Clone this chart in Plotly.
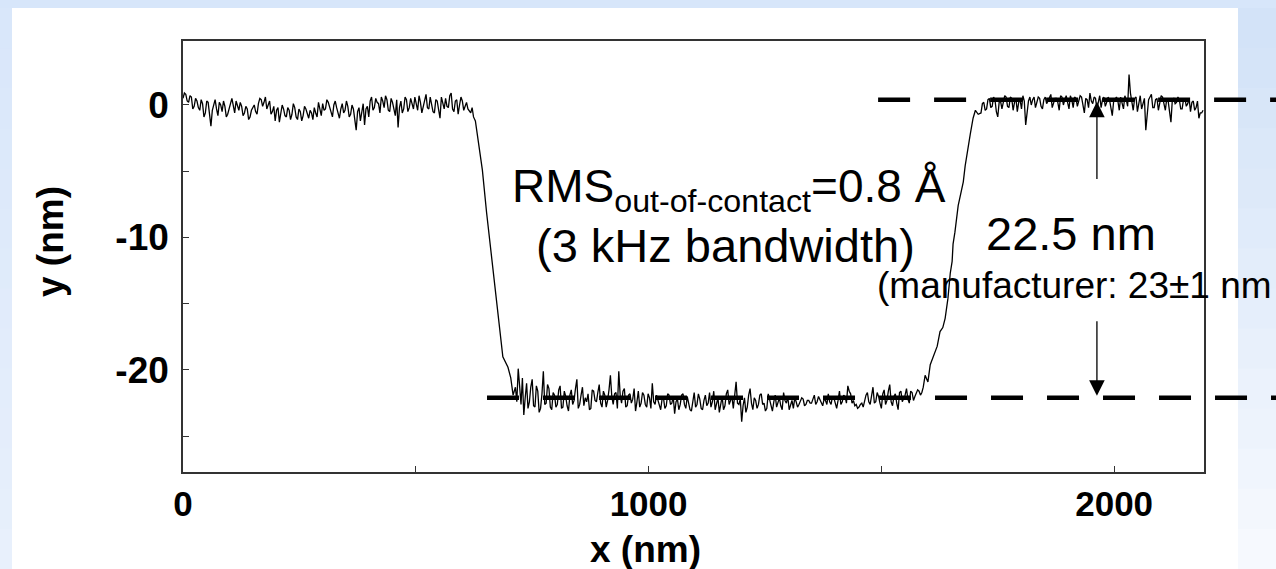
import plotly.graph_objects as go

# ---------------- figure geometry ----------------
W, H = 1276, 569
M_L, M_R, M_T, M_B = 183, 72, 41, 97
X_RANGE = [0, 2193]
Y_RANGE = [-27.7, 4.83]

# ---------------- data ----------------
SAMPLE_STEP_NM = 6

# flat top, left side: samples at x = 0, 6, ... 624 nm
left_start_nm = 0
left_y = [0.5, 0.8, 0.2, 0.6, -0.1, 0.3, -0.4, 0.1, -0.6, 0.2,
          -1.6, 0.0, -0.3, 0.2, -0.5, -0.1, -0.7, 0.1, -0.2, 0.3,
          -0.4, -0.1, -0.6, -0.3, -0.9, -0.2, -0.5, 0.1, 0.4, 0.2,
          -0.3, 0.3, -0.5, -1.2, -0.2, -0.6, -0.3, -0.9, -0.4, -0.7,
          -0.2, -1.1, -0.5, -0.8, -0.3, -1.0, -0.6, -0.2, -0.9, -0.4,
          0.1, -0.3, 0.2, -0.6, 0.0, -0.2, -1.0, 0.1, -0.4, -0.1,
          -0.7, -0.3, -1.9, -0.2, -0.6, -1.5, -0.1, 0.3, -0.4, 0.5,
          0.1, 0.6, -0.2, 0.4, -0.5, 0.2, -0.8, -1.7, 0.3, -0.3,
          0.4, -0.2, 0.1, 0.6, -0.4, 0.2, -0.1, 0.8, -0.3, 0.1,
          -0.6, 0.3, -1.0, 0.2, 0.5, -0.2, 0.9, -0.5, 0.4, 0.0,
          0.3, -0.1, -0.3, -0.6, -0.9]
# in-between samples at x = 3, 9, ... 621 nm
left_mid_start_nm = 3
left_mid_y = [0.9, 0.3, 0.7, -0.3, 0.5, -0.2, 0.4, -0.9, 0.3, -0.8,
              -0.4, 0.4, -0.8, 0.0, 0.3, -0.9, -0.2, 0.5, -0.6, -0.1,
              0.2, -0.8, -0.1, -1.1, -0.4, 0.0, -0.7, 0.5, -0.1, 0.6,
              0.1, -0.7, -0.1, -0.4, -1.3, 0.0, -0.8, -0.2, -1.1, 0.1,
              -0.9, -0.3, -1.2, -0.1, -0.7, -0.4, -1.1, -0.6, 0.2, -0.8,
              -0.4, 0.4, -0.2, -0.9, 0.3, -0.7, -0.3, -0.6, 0.3, -0.9,
              0.0, -1.1, -0.5, -1.2, 0.1, -0.3, -0.9, 0.6, -0.2, 0.2,
              -0.6, 0.3, 0.7, -0.4, 0.5, -0.3, 0.4, -0.2, -0.6, 0.6,
              -0.5, 0.5, -0.3, 0.2, 0.7, -0.6, 0.5, -0.2, 0.6, -0.5,
              0.4, -0.4, 0.6, -0.3, -0.1, 0.7, -0.3, 0.3, -0.7, 0.6,
              -0.4, 0.2, -0.5, -0.2]

# step down
drop_x = [628, 634, 643, 652, 661, 670, 679, 687, 698, 704, 709]
drop_y = [-1.2, -2.6, -4.9, -8.1, -11.0, -13.6, -16.9, -19.0, -19.8, -20.6, -21.9]

# trench bottom: samples at x = 714, 720, ... 1590 nm
bottom_start_nm = 714
bottom_y = [-21.3, -19.9, -22.6, -23.4, -21.0, -22.4, -20.7, -22.8, -21.6, -22.9,
            -20.1, -22.5, -21.4, -23.0, -21.9, -22.6, -21.2, -22.8, -22.0, -23.1,
            -21.5, -22.3, -20.7, -22.6, -21.3, -22.1, -21.8, -22.9, -21.6, -22.4,
            -21.1, -22.8, -21.9, -22.3, -20.4, -22.6, -21.7, -20.1, -22.5, -21.4,
            -22.7, -21.8, -22.2, -23.1, -21.6, -22.5, -21.9, -22.8, -22.1, -21.0,
            -22.6, -22.3, -23.0, -22.1, -22.7, -21.9, -22.5, -23.3, -22.2, -22.6,
            -21.8, -22.9, -22.4, -23.1, -21.7, -22.6, -22.2, -23.0, -21.9, -22.5,
            -22.8, -21.6, -22.4, -23.2, -22.0, -22.7, -21.5, -22.3, -22.9, -20.9,
            -22.6, -23.9, -22.1, -22.8, -21.4, -23.0, -22.3, -22.6, -21.8, -22.5,
            -22.9, -22.2, -23.1, -21.9, -22.4, -22.7, -21.7, -22.5, -23.0, -22.3,
            -22.1, -22.8, -22.4, -22.2, -22.6, -22.3, -22.5, -21.9, -22.4, -22.2,
            -22.7, -22.3, -21.8, -22.6, -22.1, -22.9, -21.6, -22.4, -22.0, -21.2,
            -21.8, -22.3, -22.6, -22.8, -22.5, -22.2, -21.7, -22.6, -21.3, -22.4,
            -22.0, -22.9, -21.5, -22.3, -21.1, -22.7, -21.8, -23.0, -21.6, -22.2,
            -21.4, -22.5, -21.7, -22.0, -21.5, -21.9, -21.3]
# in-between samples at x = 717, 723, ... 1587 nm
bottom_mid_start_nm = 717
bottom_mid_y = [-22.4, -21.2, -20.6, -22.1, -22.9, -21.3, -22.7, -21.2, -23.2, -21.8,
                -22.6, -21.1, -22.8, -21.7, -22.8, -21.5, -22.9, -21.6, -22.7, -21.9,
                -22.6, -21.4, -22.9, -21.9, -22.7, -22.4, -23.0, -21.5, -22.3, -21.7,
                -22.5, -21.6, -22.8, -21.5, -22.0, -21.8, -22.9, -21.9, -21.6, -22.8,
                -21.9, -22.5, -21.4, -22.4, -22.8, -21.7, -22.6, -21.8, -22.9, -22.4,
                -21.9, -22.8, -22.2, -22.9, -21.8, -22.6, -22.0, -22.4, -23.0, -21.9,
                -22.6, -22.0, -23.0, -22.2, -22.8, -21.8, -22.9, -22.3, -22.7, -21.7,
                -22.4, -23.0, -22.1, -22.6, -23.0, -21.8, -22.6, -22.0, -21.6, -22.5,
                -22.2, -22.7, -23.2, -21.9, -22.5, -22.1, -22.9, -21.9, -22.6, -23.1,
                -21.8, -22.6, -22.4, -22.8, -22.1, -23.0, -22.3, -22.0, -22.6, -22.9,
                -22.4, -22.6, -22.1, -22.7, -22.3, -22.5, -22.2, -22.6, -22.0, -22.5,
                -22.2, -22.6, -22.4, -22.0, -22.5, -22.3, -22.6, -21.9, -22.5, -21.6,
                -22.5, -22.7, -22.9, -22.6, -22.8, -21.9, -22.4, -22.0, -22.5, -21.7,
                -22.5, -21.8, -22.6, -21.6, -22.4, -22.0, -22.5, -21.7, -22.4, -21.9,
                -22.2, -21.6, -22.3, -21.8, -21.6, -21.7]

# step up
rise_x = [1594, 1600, 1605, 1611, 1616, 1620, 1626, 1632, 1637, 1643, 1648, 1652,
          1654, 1658, 1665, 1669, 1676, 1680, 1686, 1691, 1697, 1702, 1708]
rise_y = [-20.4, -20.9, -19.6, -19.0, -18.6, -18.2, -17.1, -16.8, -16.1, -14.6, -12.7, -11.8,
          -10.5, -9.6, -7.6, -6.9, -5.8, -4.6, -3.1, -2.2, -1.0, -0.4, -0.7]

# flat top, right side: samples at x = 1714, 1720, ... 2188 nm
right_start_nm = 1714
right_y = [-0.6, 0.2, -0.3, 0.5, -0.1, 0.4, -0.9, 0.3, 0.1, 0.6,
           -0.2, 0.5, 0.2, -0.5, 0.4, 0.7, -1.5, 0.3, 0.0, 0.6,
           0.2, 0.5, -0.3, 0.6, 0.3, 0.8, 0.1, 0.5, -0.4, 0.6,
           0.4, 0.2, 0.7, -0.2, 0.5, 0.3, 0.6, -0.6, 0.4, 0.9,
           0.1, 0.5, 0.3, -0.2, 0.6, 0.2, 0.4, -0.8, 0.5, 0.3,
           0.6, -0.3, 0.4, 2.3, 0.1, 0.5, -0.5, 0.7, 0.2, -1.9,
           0.4, 0.8, -0.2, 0.5, 0.1, 0.6, -0.4, 0.3, -1.3, 0.5,
           0.2, 0.4, -0.3, 0.5, 0.1, -0.5, 0.3, -0.2, -1.0, -0.6]
# in-between samples at x = 1717, 1723, ... 2191 nm
right_mid_start_nm = 1717
right_mid_y = [0.1, -0.4, 0.4, -0.2, 0.6, -0.5, 0.2, -0.3, 0.7, -0.1,
               0.6, -0.4, 0.5, 0.2, -0.3, 0.3, -0.4, 0.6, 0.4, -0.2,
               0.6, -0.1, 0.4, 0.1, 0.6, -0.2, 0.5, 0.2, 0.7, 0.0,
               0.7, -0.3, 0.4, 0.6, -0.1, 0.7, 0.1, 0.5, -0.2, 0.3,
               0.6, -0.3, 0.7, 0.4, -0.1, 0.6, -0.2, 0.3, 0.6, -0.4,
               0.2, 0.7, -0.1, 0.9, -0.4, 0.6, 0.2, -0.3, 0.5, -0.6,
               0.6, -0.2, 0.4, -0.4, 0.7, 0.0, 0.5, -0.5, 0.4, 0.1,
               0.6, -0.3, 0.4, -0.1, 0.5, 0.2, -0.4, 0.3, -0.6, -0.4]

# reference levels / arrows
upper_level = 0.4
lower_level = -22.1
upper_dash_start_nm = 1493
lower_dash_start_nm = 653
arrow_x_nm = 1963
arrow_up_tail = -5.7
arrow_down_tail = -16.2

x_ticks = [0, 1000, 2000]
x_tick_text = ["0", "1000", "2000"]
y_ticks = [-20, -10, 0]
y_tick_text = ["-20", "-10", "0"]

# ---------------- build series ----------------
def grid(start, values):
    return [start + i * SAMPLE_STEP_NM for i in range(len(values))]


points = []
points += list(zip(grid(left_start_nm, left_y), left_y))
points += list(zip(grid(left_mid_start_nm, left_mid_y), left_mid_y))
points += list(zip(drop_x, drop_y))
points += list(zip(grid(bottom_start_nm, bottom_y), bottom_y))
points += list(zip(grid(bottom_mid_start_nm, bottom_mid_y), bottom_mid_y))
points += list(zip(rise_x, rise_y))
points += list(zip(grid(right_start_nm, right_y), right_y))
points += list(zip(grid(right_mid_start_nm, right_mid_y), right_mid_y))
points.sort(key=lambda p: p[0])
trace_x = [p[0] for p in points]
trace_y = [p[1] for p in points]

FONT = "Arial, 'Liberation Sans', sans-serif"

fig = go.Figure()
fig.add_trace(go.Scatter(x=trace_x, y=trace_y, mode="lines",
                         line=dict(color="black", width=1.3),
                         showlegend=False, hoverinfo="skip"))

# ---------------- helpers for paper coordinates ----------------
PW = W - M_L - M_R
PH = H - M_T - M_B


def px_x(px):
    return (px - M_L) / PW


def px_y(py):
    return (H - M_B - py) / PH


def nm_to_paper(x):
    return (x - X_RANGE[0]) / (X_RANGE[1] - X_RANGE[0])


shapes = []
# white slide panel
shapes.append(dict(type="rect", xref="paper", yref="paper",
                   x0=px_x(12), x1=px_x(1238), y0=px_y(H + 5), y1=px_y(8),
                   fillcolor="white", line=dict(width=0), layer="below"))
# gradient bands on right and left strips
n_b = 14
for i in range(n_b):
    t = i / (n_b - 1)
    r = int(0xd3 + (0xf6 - 0xd3) * t)
    g = int(0xe3 + (0xf9 - 0xe3) * t)
    b = int(0xf8 + (0xfe - 0xf8) * t)
    y0p = 8 + i * (H - 8) / n_b
    y1p = 8 + (i + 1) * (H - 8) / n_b
    shapes.append(dict(type="rect", xref="paper", yref="paper",
                       x0=px_x(1238), x1=px_x(W + 5), y0=px_y(y1p + 0.5), y1=px_y(y0p),
                       fillcolor=f"rgb({r},{g},{b})", line=dict(width=0), layer="below"))
    r2 = int(0xd9 + (0xe8 - 0xd9) * t)
    g2 = int(0xe7 + (0xf0 - 0xe7) * t)
    b2 = int(0xfa + (0xfc - 0xfa) * t)
    shapes.append(dict(type="rect", xref="paper", yref="paper",
                       x0=px_x(-5), x1=px_x(12), y0=px_y(y1p + 0.5), y1=px_y(y0p),
                       fillcolor=f"rgb({r2},{g2},{b2})", line=dict(width=0), layer="below"))

DASH = "32px,24px"
shapes.append(dict(type="line", xref="paper", yref="y",
                   x0=nm_to_paper(upper_dash_start_nm), x1=px_x(W + 20),
                   y0=upper_level, y1=upper_level,
                   line=dict(color="black", width=4.5, dash=DASH), layer="below"))
shapes.append(dict(type="line", xref="paper", yref="y",
                   x0=nm_to_paper(lower_dash_start_nm), x1=px_x(W + 20),
                   y0=lower_level, y1=lower_level,
                   line=dict(color="black", width=4.5, dash=DASH), layer="below"))

annotations = [
    dict(text="x (nm)", xref="paper", yref="paper", x=px_x(645), y=px_y(549),
         showarrow=False, xanchor="center", yanchor="middle",
         font=dict(family=FONT, size=37, color="black", weight="bold")),
    dict(text="y (nm)", xref="paper", yref="paper", x=px_x(50), y=px_y(242),
         showarrow=False, xanchor="center", yanchor="middle", textangle=-90,
         font=dict(family=FONT, size=37, color="black", weight="bold")),
    dict(text="RMS<sub>out-of-contact</sub>=0.8 Å", x=1173, y=-6.4,
         xref="x", yref="y", showarrow=False, xanchor="center", yanchor="middle",
         font=dict(family=FONT, size=46, color="black")),
    dict(text="(3 kHz bandwidth)", x=1166, y=-10.6,
         xref="x", yref="y", showarrow=False, xanchor="center", yanchor="middle",
         font=dict(family=FONT, size=47, color="black")),
    dict(text="22.5 nm", x=1908, y=-9.7,
         xref="x", yref="y", showarrow=False, xanchor="center", yanchor="middle",
         font=dict(family=FONT, size=47, color="black")),
    dict(text="(manufacturer: 23±1 nm", x=1487, y=-13.6,
         xref="x", yref="y", showarrow=False, xanchor="left", yanchor="middle",
         font=dict(family=FONT, size=37, color="black")),
    dict(text="", x=arrow_x_nm, y=upper_level - 0.15, ax=arrow_x_nm, ay=arrow_up_tail,
         xref="x", yref="y", axref="x", ayref="y", showarrow=True,
         arrowhead=2, arrowsize=2.4, arrowwidth=1.3, arrowcolor="black", standoff=0),
    dict(text="", x=arrow_x_nm, y=lower_level + 0.15, ax=arrow_x_nm, ay=arrow_down_tail,
         xref="x", yref="y", axref="x", ayref="y", showarrow=True,
         arrowhead=2, arrowsize=2.4, arrowwidth=1.3, arrowcolor="black", standoff=0),
]

axis_common = dict(showgrid=False, zeroline=False, showline=True, mirror=True,
                   linecolor="#333333", linewidth=1.5,
                   ticks="inside", ticklen=6, tickwidth=1.3, tickcolor="#333333")

fig.update_layout(
    width=W, height=H,
    margin=dict(l=M_L, r=M_R, t=M_T, b=M_B, pad=0),
    paper_bgcolor="#d7e6fa",
    plot_bgcolor="rgba(0,0,0,0)",
    xaxis=dict(range=X_RANGE, tickvals=x_ticks, ticktext=x_tick_text,
               ticklabelstandoff=0,
               tickfont=dict(family=FONT, size=35, color="black", weight="bold"),
               minor=dict(ticks="inside", dtick=500, ticklen=6, tickwidth=1.3, tickcolor="#333333"),
               **axis_common),
    yaxis=dict(range=Y_RANGE, tickvals=y_ticks, ticktext=y_tick_text,
               ticklabelstandoff=5,
               tickfont=dict(family=FONT, size=37, color="black", weight="bold"),
               minor=dict(ticks="inside", tick0=0, dtick=5, ticklen=6, tickwidth=1.3, tickcolor="#333333"),
               **axis_common),
    shapes=shapes,
    annotations=annotations,
    showlegend=False,
)

fig.write_html("out.html")
